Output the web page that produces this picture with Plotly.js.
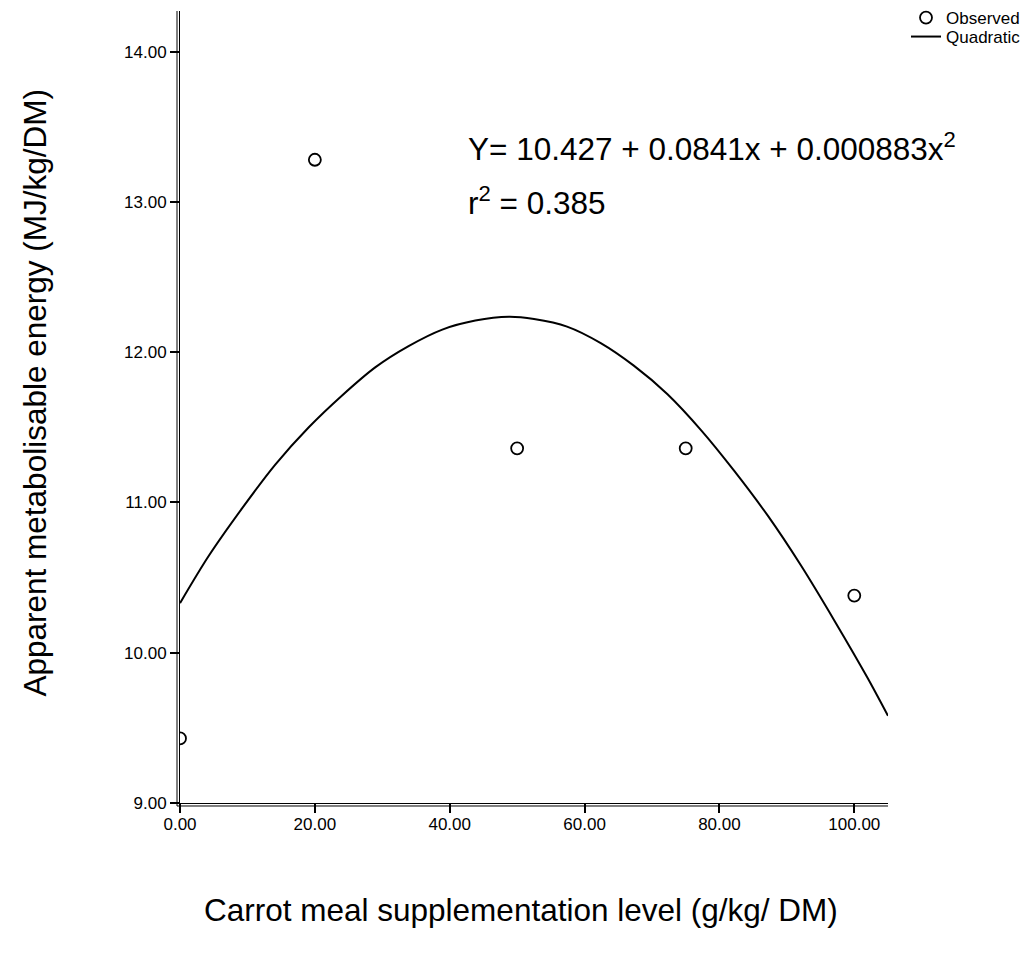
<!DOCTYPE html>
<html>
<head>
<meta charset="utf-8">
<script src="https://cdn.plot.ly/plotly-3.0.1.min.js"></script>
<style>body{margin:0;background:#fff;} #chart{width:1031px;height:953px;}</style>
</head>
<body>
<div id="chart"></div>
<script>
// Observed points
const obsX = [0, 20, 50, 75, 100];
const obsY = [9.43, 13.28, 11.36, 11.36, 10.38];

// Quadratic fit curve
const fitX = [0, 4.2, 9.2, 14.1, 19.1, 24.0, 29.0, 33.9, 38.9, 43.8, 48.8, 52.5, 57.4, 62.4, 67.3, 72.3, 77.3, 82.2, 87.2, 92.1, 97.1, 102.0, 105];
const fitY = [10.33, 10.64, 10.96, 11.25, 11.50, 11.71, 11.90, 12.04, 12.15, 12.21, 12.235, 12.22, 12.17, 12.06, 11.91, 11.72, 11.48, 11.21, 10.91, 10.58, 10.21, 9.83, 9.58];

const xTicks = [0, 20, 40, 60, 80, 100];
const xTickText = ["0.00", "20.00", "40.00", "60.00", "80.00", "100.00"];
const yTicks = [9, 10, 11, 12, 13, 14];
const yTickText = ["9.00", "10.00", "11.00", "12.00", "13.00", "14.00"];

const equationText = "Y= 10.427 + 0.0841x + 0.000883x<sup>2</sup>";
const r2Text = "r<sup>2</sup> = 0.385";
const xTitle = "Carrot meal supplementation level (g/kg/ DM)";
const yTitle = "Apparent metabolisable energy (MJ/kg/DM)";

const font = "Liberation Sans, Arial, sans-serif";

// geometry helpers (pixel -> paper)
const L = 180, PW = 851, PH = 803;
const px = p => (p - L) / PW;
const py = p => (PH - p) / PH;

const traces = [
  {
    x: obsX, y: obsY, name: "Observed", type: "scatter", mode: "markers",
    marker: {symbol: "circle-open", size: 12, color: "#000", line: {width: 1.8, color: "#000"}},
    cliponaxis: true, legend: "legend"
  },
  {
    x: fitX, y: fitY, name: "Quadratic", type: "scatter", mode: "lines",
    line: {color: "#000", width: 2, shape: "spline", smoothing: 0.8}, legend: "legend2"
  }
];

const legendBase = {
  xanchor: "left", yanchor: "middle",
  font: {family: font, size: 17, color: "#000"},
  bgcolor: "rgba(0,0,0,0)", borderwidth: 0, itemwidth: 30
};

const layout = {
  width: 1031, height: 953,
  margin: {l: L, r: 0, t: 0, b: 150, pad: 0},
  paper_bgcolor: "#fff", plot_bgcolor: "#fff",
  font: {family: font, color: "#000", size: 17},
  showlegend: true,
  legend: Object.assign({}, legendBase, {x: px(906), y: py(17)}),
  legend2: Object.assign({}, legendBase, {x: px(906), y: py(37)}),
  xaxis: {
    domain: [0, 708 / PW],
    range: [0, 105], tickvals: xTicks, ticktext: xTickText,
    showgrid: false, zeroline: false, showline: true, linecolor: "#000", linewidth: 1,
    ticks: "outside", ticklen: 9, tickwidth: 2, tickcolor: "#000",
    ticklabelstandoff: -3,
    tickfont: {family: font, size: 17, color: "#000"}
  },
  yaxis: {
    domain: [0, 793 / PH],
    range: [9, 14.27], tickvals: yTicks, ticktext: yTickText,
    showgrid: false, zeroline: false, showline: true, linecolor: "#000", linewidth: 1,
    ticks: "outside", ticklen: 9, tickwidth: 2, tickcolor: "#000",
    tickfont: {family: font, size: 17, color: "#000"}
  },
  shapes: [
    {type: "line", xref: "paper", yref: "paper", x0: px(177), x1: px(177), y0: py(806), y1: py(10), line: {color: "#000", width: 1}},
    {type: "line", xref: "paper", yref: "paper", x0: px(177), x1: px(888), y0: py(806), y1: py(806), line: {color: "#000", width: 1}}
  ],
  annotations: [
    {text: equationText, xref: "paper", yref: "paper", x: px(466), y: py(146),
     xanchor: "left", yanchor: "middle", showarrow: false, font: {family: font, size: 31.5, color: "#000"}},
    {text: r2Text, xref: "paper", yref: "paper", x: px(466), y: py(200),
     xanchor: "left", yanchor: "middle", showarrow: false, font: {family: font, size: 31.5, color: "#000"}},
    {text: xTitle, xref: "paper", yref: "paper", x: px(521), y: py(910),
     xanchor: "center", yanchor: "middle", showarrow: false, font: {family: font, size: 31.5, color: "#000"}},
    {text: yTitle, xref: "paper", yref: "paper", x: px(35), y: py(392),
     xanchor: "center", yanchor: "middle", textangle: -90, showarrow: false, font: {family: font, size: 31.5, color: "#000"}}
  ]
};

Plotly.newPlot("chart", traces, layout, {displayModeBar: false, staticPlot: true});
</script>
</body>
</html>
